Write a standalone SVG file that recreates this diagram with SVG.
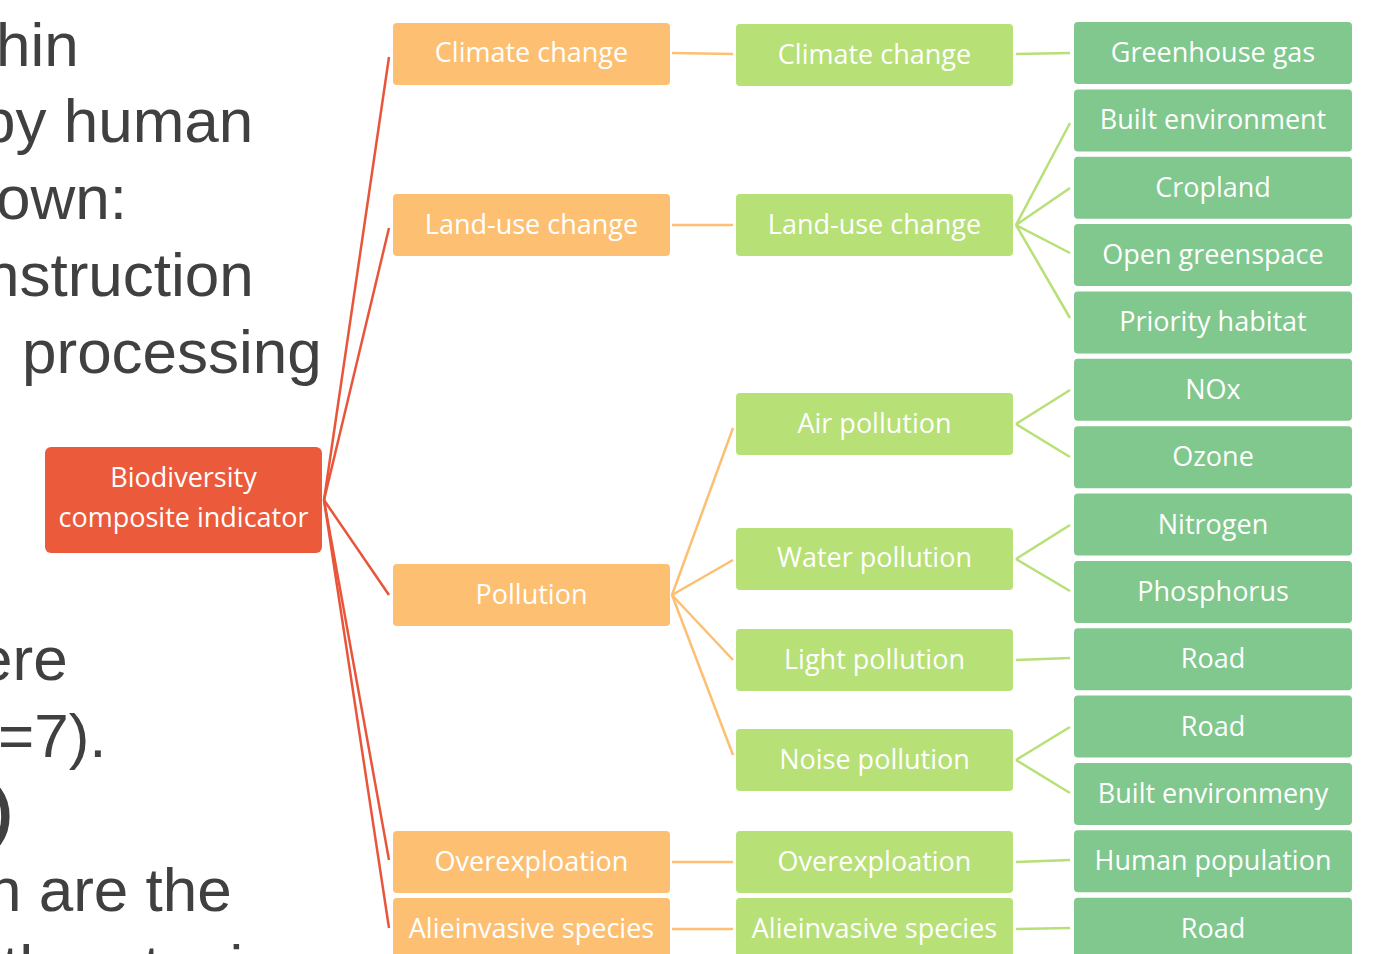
<svg xmlns="http://www.w3.org/2000/svg" width="1376" height="954" viewBox="0 0 1376 954">
<style>
.bg{font-family:"Liberation Sans",Arial,sans-serif;font-size:62px;fill:#404040}
.lbl{font-family:"Open Sans","Noto Sans",sans-serif;font-size:27px;fill:#ffffff;text-anchor:middle}
.root{fill:#EB5A3B}
.l1{fill:#FDBF72}
.l2{fill:#B7E077}
.l3{fill:#80C88D}
.cr{stroke:#E8553A;stroke-width:2.5;fill:none}
.co{stroke:#FDBF72;stroke-width:2.5;fill:none}
.cg{stroke:#B7E077;stroke-width:2.5;fill:none}
</style>
<rect width="1376" height="954" fill="#ffffff"/>
<g id="background-text">
<text class="bg" x="-4" y="66">hin</text>
<text class="bg" x="-19" y="142">by human</text>
<text class="bg" x="-4" y="219">own:</text>
<text class="bg" x="-15" y="296">nstruction</text>
<text class="bg" x="22" y="373">processing</text>
<text class="bg" x="-22" y="680">ere</text>
<text class="bg" x="-2" y="757">=7).</text>
<text class="bg" x="-8" y="832" font-weight="bold">)</text>
<text class="bg" x="-13" y="911">n are the</text>
<text class="bg" x="2" y="988">threatening</text>
</g>
<g id="connectors">
<line class="cr" x1="324" y1="500" x2="389" y2="57"/>
<line class="cr" x1="324" y1="500" x2="389" y2="228"/>
<line class="cr" x1="324" y1="500" x2="389" y2="595"/>
<line class="cr" x1="324" y1="500" x2="389" y2="860"/>
<line class="cr" x1="324" y1="500" x2="389" y2="928"/>
<line class="co" x1="672" y1="53" x2="733" y2="54"/>
<line class="co" x1="672" y1="225" x2="733" y2="225"/>
<line class="co" x1="672" y1="595" x2="733" y2="428"/>
<line class="co" x1="672" y1="595" x2="733" y2="560"/>
<line class="co" x1="672" y1="595" x2="733" y2="660"/>
<line class="co" x1="672" y1="595" x2="733" y2="755"/>
<line class="co" x1="672" y1="862" x2="733" y2="862"/>
<line class="co" x1="672" y1="929" x2="733" y2="929"/>
<line class="cg" x1="1016" y1="54" x2="1070" y2="53"/>
<line class="cg" x1="1016" y1="225" x2="1070" y2="123"/>
<line class="cg" x1="1016" y1="225" x2="1070" y2="188"/>
<line class="cg" x1="1016" y1="225" x2="1070" y2="253"/>
<line class="cg" x1="1016" y1="225" x2="1070" y2="318"/>
<line class="cg" x1="1016" y1="424" x2="1070" y2="390"/>
<line class="cg" x1="1016" y1="424" x2="1070" y2="457"/>
<line class="cg" x1="1016" y1="559" x2="1070" y2="525"/>
<line class="cg" x1="1016" y1="559" x2="1070" y2="591"/>
<line class="cg" x1="1016" y1="660" x2="1070" y2="658"/>
<line class="cg" x1="1016" y1="760" x2="1070" y2="727"/>
<line class="cg" x1="1016" y1="760" x2="1070" y2="793"/>
<line class="cg" x1="1016" y1="862" x2="1070" y2="860"/>
<line class="cg" x1="1016" y1="929" x2="1070" y2="928"/>
</g>
<g id="root"><rect class="root" x="45" y="447" width="277" height="106" rx="6"/><text class="lbl" x="183.5" y="487">Biodiversity</text><text class="lbl" x="183.5" y="527">composite indicator</text></g>
<g id="l1-climate"><rect class="l1" x="393" y="23" width="277" height="62" rx="4"/><text class="lbl" x="531.5" y="62">Climate change</text></g>
<g id="l1-landuse"><rect class="l1" x="393" y="194" width="277" height="62" rx="4"/><text class="lbl" x="531.5" y="234">Land-use change</text></g>
<g id="l1-pollution"><rect class="l1" x="393" y="564" width="277" height="62" rx="4"/><text class="lbl" x="531.5" y="604">Pollution</text></g>
<g id="l1-overexploation"><rect class="l1" x="393" y="831" width="277" height="62" rx="4"/><text class="lbl" x="531.5" y="871">Overexploation</text></g>
<g id="l1-alien"><rect class="l1" x="393" y="898" width="277" height="62" rx="4"/><text class="lbl" x="531.5" y="938">Alieinvasive species</text></g>
<g id="l2-climate"><rect class="l2" x="736" y="24" width="277" height="62" rx="4"/><text class="lbl" x="874.5" y="64">Climate change</text></g>
<g id="l2-landuse"><rect class="l2" x="736" y="194" width="277" height="62" rx="4"/><text class="lbl" x="874.5" y="234">Land-use change</text></g>
<g id="l2-air"><rect class="l2" x="736" y="393" width="277" height="62" rx="4"/><text class="lbl" x="874.5" y="433">Air pollution</text></g>
<g id="l2-water"><rect class="l2" x="736" y="528" width="277" height="62" rx="4"/><text class="lbl" x="874.5" y="567">Water pollution</text></g>
<g id="l2-light"><rect class="l2" x="736" y="629" width="277" height="62" rx="4"/><text class="lbl" x="874.5" y="669">Light pollution</text></g>
<g id="l2-noise"><rect class="l2" x="736" y="729" width="277" height="62" rx="4"/><text class="lbl" x="874.5" y="769">Noise pollution</text></g>
<g id="l2-overexploation"><rect class="l2" x="736" y="831" width="277" height="62" rx="4"/><text class="lbl" x="874.5" y="871">Overexploation</text></g>
<g id="l2-alien"><rect class="l2" x="736" y="898" width="277" height="62" rx="4"/><text class="lbl" x="874.5" y="938">Alieinvasive species</text></g>
<g id="l3-greenhouse"><rect class="l3" x="1074" y="22" width="278" height="62" rx="4"/><text class="lbl" x="1213" y="62">Greenhouse gas</text></g>
<g id="l3-built"><rect class="l3" x="1074" y="89.4" width="278" height="62" rx="4"/><text class="lbl" x="1213" y="129.4">Built environment</text></g>
<g id="l3-cropland"><rect class="l3" x="1074" y="156.7" width="278" height="62" rx="4"/><text class="lbl" x="1213" y="196.7">Cropland</text></g>
<g id="l3-open"><rect class="l3" x="1074" y="224.1" width="278" height="62" rx="4"/><text class="lbl" x="1213" y="264.1">Open greenspace</text></g>
<g id="l3-priority"><rect class="l3" x="1074" y="291.4" width="278" height="62" rx="4"/><text class="lbl" x="1213" y="331.4">Priority habitat</text></g>
<g id="l3-nox"><rect class="l3" x="1074" y="358.8" width="278" height="62" rx="4"/><text class="lbl" x="1213" y="398.8">NOx</text></g>
<g id="l3-ozone"><rect class="l3" x="1074" y="426.2" width="278" height="62" rx="4"/><text class="lbl" x="1213" y="466.2">Ozone</text></g>
<g id="l3-nitrogen"><rect class="l3" x="1074" y="493.5" width="278" height="62" rx="4"/><text class="lbl" x="1213" y="533.5">Nitrogen</text></g>
<g id="l3-phosphorus"><rect class="l3" x="1074" y="560.9" width="278" height="62" rx="4"/><text class="lbl" x="1213" y="600.9">Phosphorus</text></g>
<g id="l3-road1"><rect class="l3" x="1074" y="628.2" width="278" height="62" rx="4"/><text class="lbl" x="1213" y="668.2">Road</text></g>
<g id="l3-road2"><rect class="l3" x="1074" y="695.6" width="278" height="62" rx="4"/><text class="lbl" x="1213" y="735.6">Road</text></g>
<g id="l3-builtenv2"><rect class="l3" x="1074" y="763" width="278" height="62" rx="4"/><text class="lbl" x="1213" y="803">Built environmeny</text></g>
<g id="l3-human"><rect class="l3" x="1074" y="830.3" width="278" height="62" rx="4"/><text class="lbl" x="1213" y="870.3">Human population</text></g>
<g id="l3-road3"><rect class="l3" x="1074" y="897.7" width="278" height="62" rx="4"/><text class="lbl" x="1213" y="937.7">Road</text></g>
</svg>
